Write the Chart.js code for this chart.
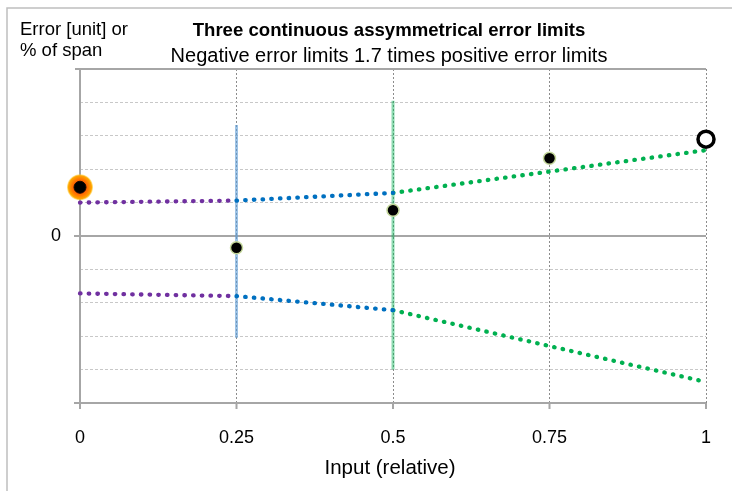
<!DOCTYPE html>
<html>
<head>
<meta charset="utf-8">
<script src="https://cdn.jsdelivr.net/npm/chart.js"></script>
<style>
  body { margin: 0; background: #fff; }
  #wrap { width: 732px; height: 491px; }
</style>
</head>
<body>
<div id="wrap"><canvas id="errChart" width="732" height="491"></canvas></div>
<script>
    // values
    var inputTicks = [0, 0.25, 0.5, 0.75, 1];
    var measX = [0.25, 0.5, 0.75];
    var measY = [-0.35, 0.77, 2.33];
    var startPoint = [0, 1.46];
    var endPoint = [1, 2.9];

    // three limit segments: purple, blue, green
    var segX = [[0, 0.25], [0.25, 0.5], [0.5, 1]];
    var upperLimit = [[1.0, 1.06], [1.06, 1.29], [1.29, 2.57]];
    var lowerLimit = [[-1.72, -1.8], [-1.8, -2.22], [-2.22, -4.37]];
    var segColors = ['#7030A0', '#0070C0', '#00B050'];

    // vertical marker lines at the segment joins
    var markX = [0.25, 0.5];
    var markTop = [3.32, 4.05];
    var markBottom = [-3.05, -4.0];
    var markColors = ['rgba(91,155,213,0.6)', 'rgba(0,176,80,0.45)'];

    var yMin = -5, yMax = 5, yStep = 1;

    var FONT = "'Liberation Sans', Arial, sans-serif";

    function xy(xs, ys) {
      return xs.map(function (x, i) { return { x: x, y: ys[i] }; });
    }

    function glowFill(c) {
      var ch = c.chart;
      if (!ch.chartArea) return '#FF8000';
      var px = ch.scales.x.getPixelForValue(startPoint[0]);
      var py = ch.scales.y.getPixelForValue(startPoint[1]);
      var g = ch.ctx.createRadialGradient(px, py, 3, px, py, 13);
      g.addColorStop(0, '#FF3A00');
      g.addColorStop(0.55, '#FF7A00');
      g.addColorStop(0.85, '#FFA500');
      g.addColorStop(1, 'rgba(255,210,60,0.5)');
      return g;
    }

    var datasets = [];
    datasets.push({
      data: [{ x: endPoint[0], y: endPoint[1] }],
      pointRadius: 8, pointBackgroundColor: '#fff',
      pointBorderColor: '#000', pointBorderWidth: 3.5
    });
    datasets.push({
      data: xy(measX, measY),
      pointRadius: 6, pointBackgroundColor: '#000',
      pointBorderColor: '#C4D79B', pointBorderWidth: 1.5
    });
    datasets.push({
      data: [{ x: startPoint[0], y: startPoint[1] }],
      pointRadius: 6, pointBackgroundColor: '#000',
      pointBorderColor: '#1a0a00', pointBorderWidth: 1
    });
    datasets.push({
      data: [{ x: startPoint[0], y: startPoint[1] }],
      pointRadius: 13, pointBackgroundColor: glowFill, pointBorderWidth: 0
    });
    for (var i = 0; i < segX.length; i++) {
      [upperLimit, lowerLimit].forEach(function (lim) {
        datasets.push({
          data: xy(segX[i], lim[i]),
          showLine: true, pointRadius: 0,
          borderColor: segColors[i], borderWidth: 4.3,
          borderCapStyle: 'round', borderDash: [0.5, 8.2]
        });
      });
    }
    for (var j = 0; j < markX.length; j++) {
      datasets.push({
        data: [{ x: markX[j], y: markTop[j] }, { x: markX[j], y: markBottom[j] }],
        showLine: true, pointRadius: 0,
        borderColor: markColors[j], borderWidth: 3
      });
    }

    function line(ctx, x1, y1, x2, y2) {
      ctx.beginPath();
      ctx.moveTo(x1, y1);
      ctx.lineTo(x2, y2);
      ctx.stroke();
    }

    var decorPlugin = {
      id: 'decor',
      beforeDatasetsDraw: function (chart) {
        var ctx = chart.ctx, a = chart.chartArea;
        var y0 = chart.scales.y.getPixelForValue(0);
        ctx.save();
        ctx.strokeStyle = '#A6A6A6';
        ctx.lineWidth = 2;
        line(ctx, a.left - 6, y0, a.right, y0);
        line(ctx, a.left - 5, a.top, a.right, a.top);
        line(ctx, a.left - 6, a.bottom, a.right, a.bottom);
        line(ctx, a.left, a.top, a.left, a.bottom + 6);
        inputTicks.forEach(function (v) {
          var px = chart.scales.x.getPixelForValue(v);
          line(ctx, px, a.bottom, px, a.bottom + 6);
        });
        ctx.restore();
      },
      afterDraw: function (chart) {
        var ctx = chart.ctx;
        ctx.save();
        ctx.strokeStyle = '#BFBFBF';
        ctx.lineWidth = 1.5;
        ctx.beginPath();
        ctx.moveTo(7, 491);
        ctx.lineTo(7, 8);
        ctx.lineTo(732, 8);
        ctx.stroke();

        ctx.fillStyle = '#000';
        ctx.textBaseline = 'middle';
        ctx.textAlign = 'center';
        ctx.font = 'bold 18.6px ' + FONT;
        ctx.fillText('Three continuous assymmetrical error limits', 389, 31);
        ctx.font = '20px ' + FONT;
        ctx.fillText('Negative error limits 1.7 times positive error limits', 389, 56);
        ctx.font = '20.5px ' + FONT;
        ctx.fillText('Input (relative)', 390, 468);
        ctx.textAlign = 'left';
        ctx.font = '18.5px ' + FONT;
        ctx.fillText('Error [unit] or', 20, 30);
        ctx.fillText('% of span', 20, 51);
        ctx.restore();
      }
    };

    var errChart = new Chart(document.getElementById('errChart').getContext('2d'), {
      type: 'scatter',
      data: { datasets: datasets },
      plugins: [decorPlugin],
      options: {
        responsive: false,
        animation: false,
        events: [],
        clip: false,
        layout: { padding: { left: 0, top: 69, right: 26, bottom: 0 } },
        plugins: { legend: { display: false }, tooltip: { enabled: false } },
        scales: {
          x: {
            type: 'linear', min: 0, max: 1,
            afterFit: function (s) { s.height = 88; },
            afterBuildTicks: function (s) {
              s.ticks = inputTicks.map(function (v) { return { value: v }; });
            },
            grid: {
              drawTicks: true,
              tickLength: 24,
              tickColor: 'rgba(0,0,0,0)',
              color: function (c) { return c.tick && c.tick.value === 0 ? 'rgba(0,0,0,0)' : '#8C8C8C'; },
              lineWidth: 1
            },
            border: { display: false, dash: [2, 2] },
            ticks: {
              padding: 0, maxRotation: 0, autoSkip: false, color: '#000',
              font: { family: FONT, size: 18 },
              callback: function (v) { return String(v); }
            }
          },
          y: {
            type: 'linear', min: yMin, max: yMax,
            afterFit: function (s) { s.width = 80; },
            grid: {
              drawTicks: false,
              color: function (c) {
                var v = c.tick ? c.tick.value : 0;
                return (v === 0 || v === yMin || v === yMax) ? 'rgba(0,0,0,0)' : '#C8C8C8';
              },
              lineWidth: 1
            },
            border: { display: false, dash: [3, 2] },
            ticks: {
              stepSize: yStep, autoSkip: false, padding: 19, color: '#000',
              font: { family: FONT, size: 18 },
              callback: function (v) { return v === 0 ? '0' : ''; }
            }
          }
        }
      }
    });
</script>
</body>
</html>
